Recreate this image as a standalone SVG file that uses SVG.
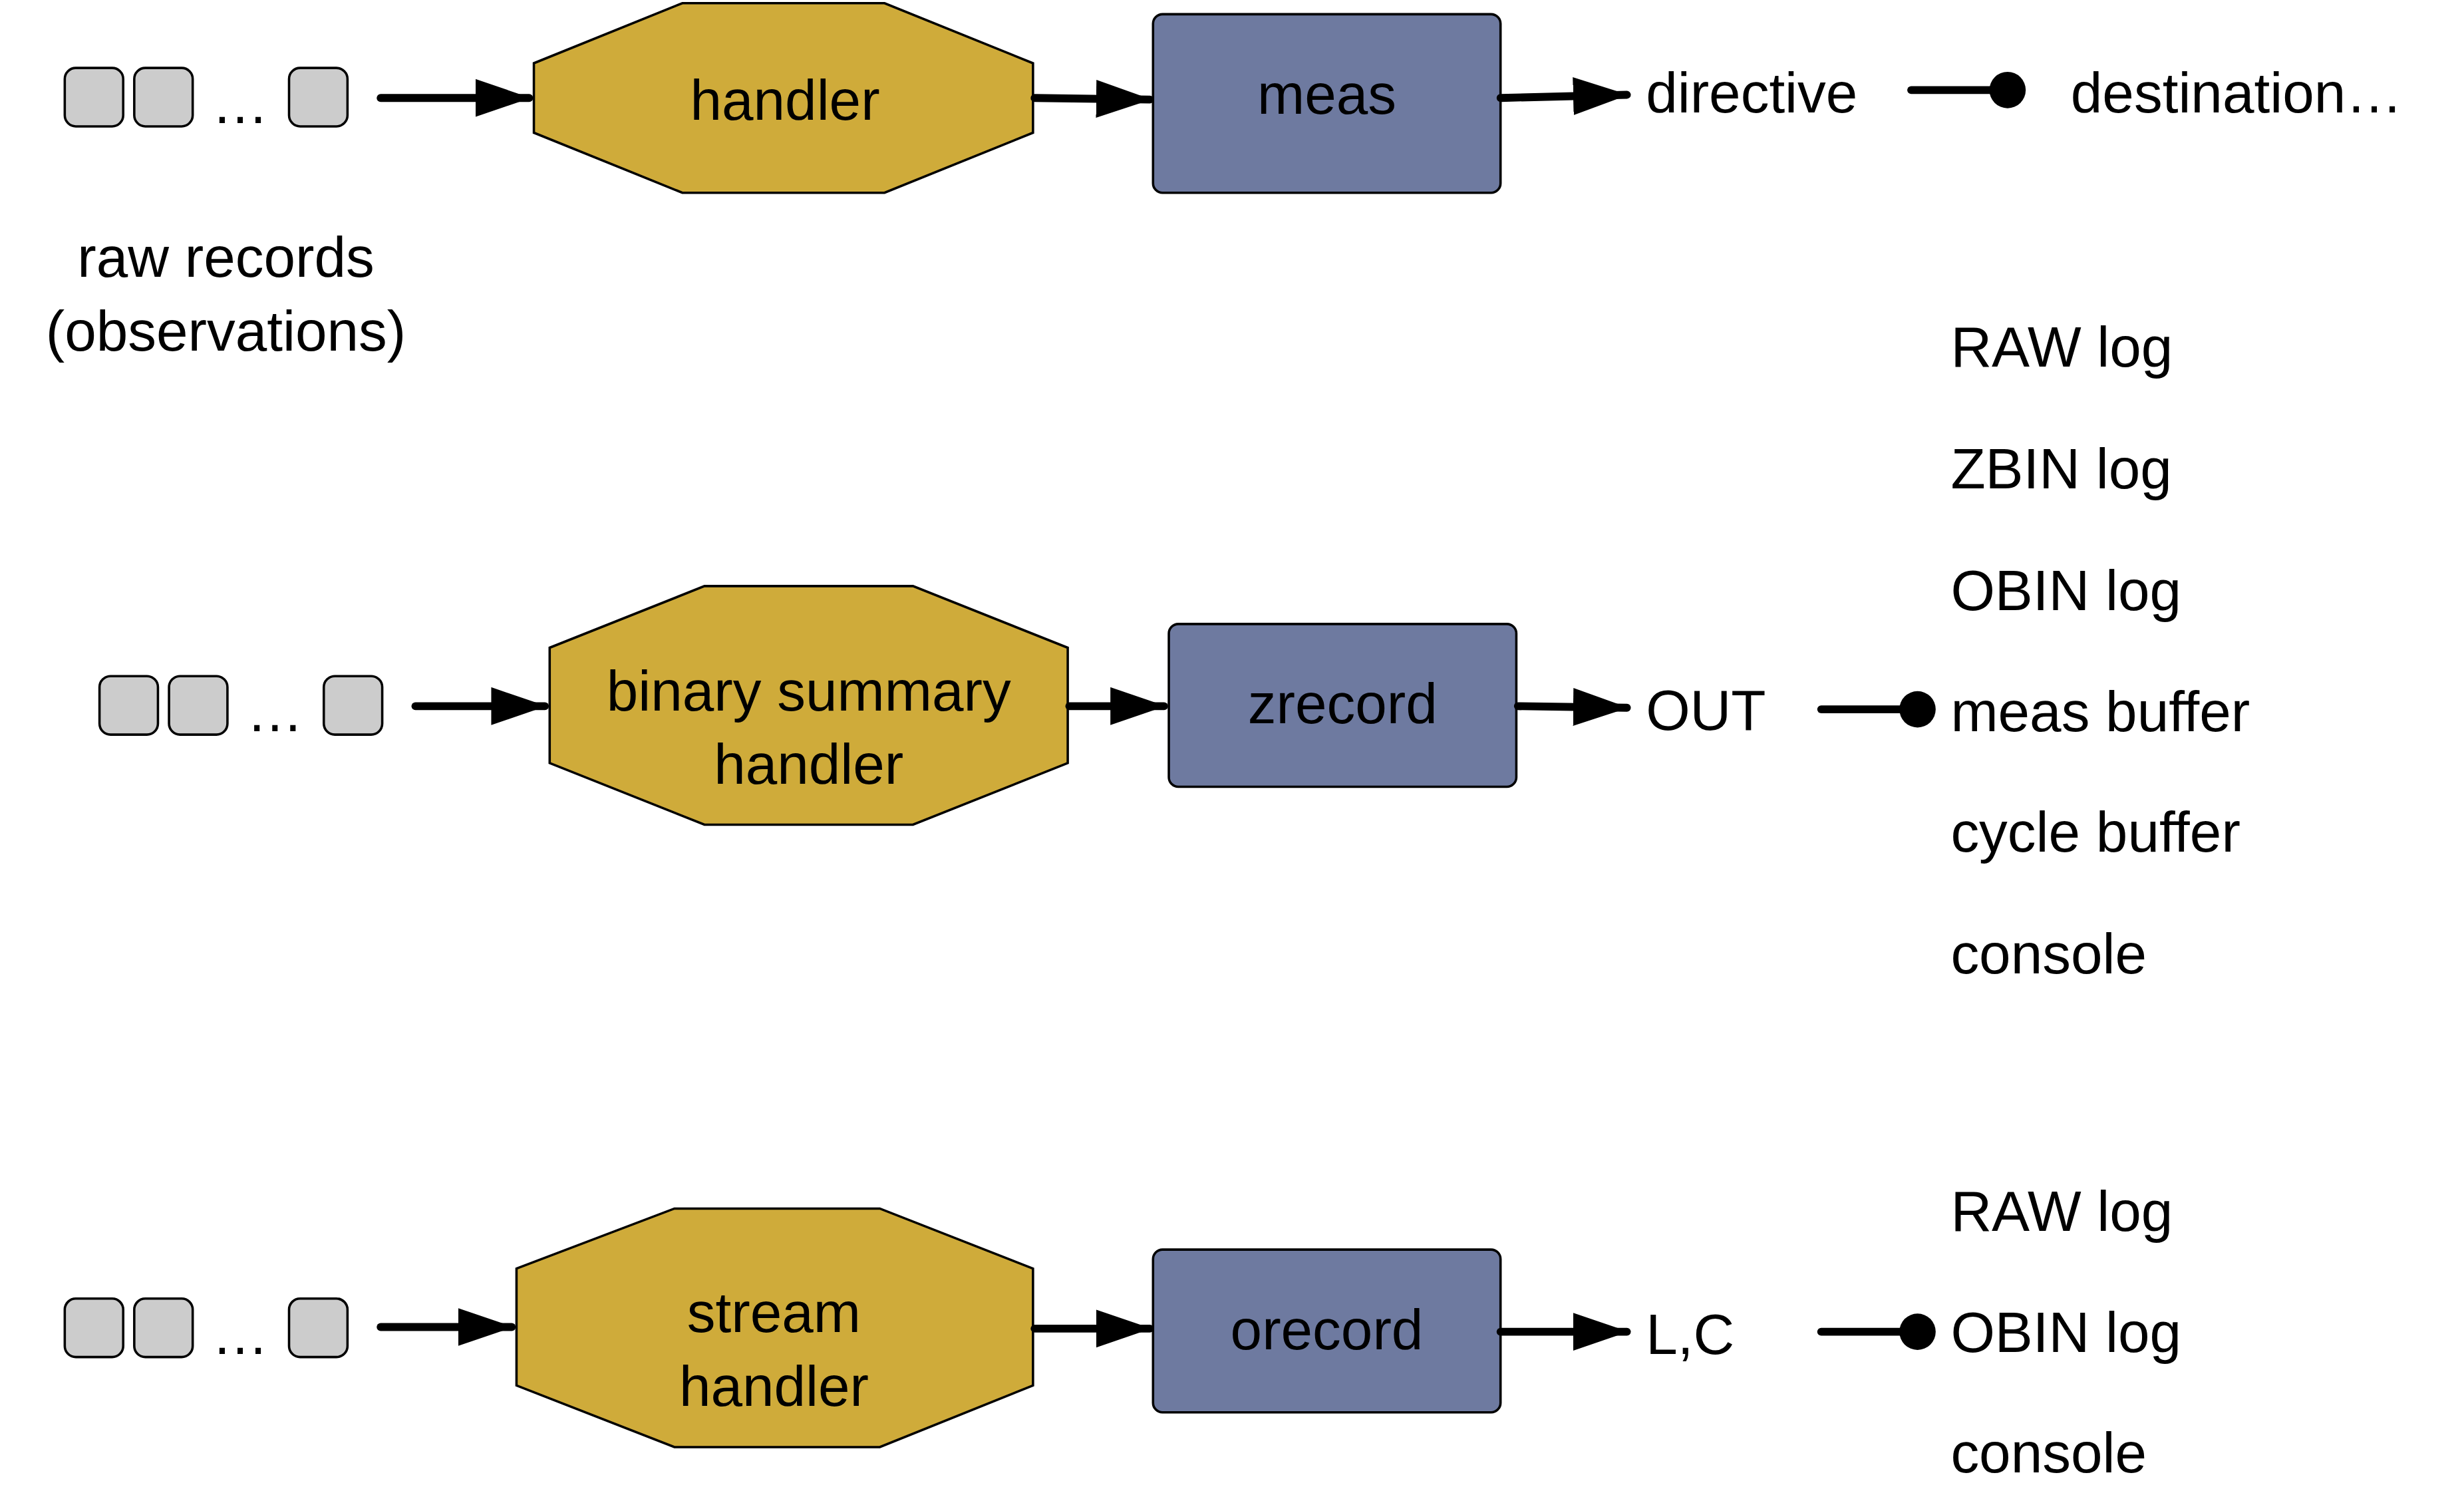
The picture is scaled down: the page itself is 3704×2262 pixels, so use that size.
<svg xmlns="http://www.w3.org/2000/svg" width="3704" height="2262" viewBox="0 0 3704 2262">
<style>
.t{font-family:"Liberation Sans",Arial,sans-serif;font-size:36px;fill:#000}
.c{text-anchor:middle}
.oct{fill:#cfab3a;stroke:#000;stroke-width:1.5}
.box{fill:#6e7aa0;stroke:#000;stroke-width:1.5}
.sq{fill:#cccccc;stroke:#000;stroke-width:1.5}
.ln{stroke:#000;stroke-width:5;fill:none;stroke-linecap:round}
</style>
<defs>
<marker id="ah" markerUnits="userSpaceOnUse" markerWidth="40" markerHeight="30" refX="34" refY="12" orient="auto"><path d="M0,0 L35,12 L0,24 Z" fill="#000"/></marker>
<marker id="dot" markerUnits="userSpaceOnUse" markerWidth="26" markerHeight="26" refX="13" refY="13" orient="auto"><circle cx="13" cy="13" r="11.5" fill="#000"/></marker>
</defs>
<rect width="3704" height="2262" fill="#fff"/>
<g transform="scale(2.3744)">
<g id="records1"><rect class="sq" x="41" y="43" width="37" height="37" rx="7"/><rect class="sq" x="85" y="43" width="37" height="37" rx="7"/><rect class="sq" x="183" y="43" width="37" height="37" rx="7"/><text class="t" x="134" y="78">…</text></g>
<g id="records2"><rect class="sq" x="63" y="428" width="37" height="37" rx="7"/><rect class="sq" x="107" y="428" width="37" height="37" rx="7"/><rect class="sq" x="205" y="428" width="37" height="37" rx="7"/><text class="t" x="156" y="463">…</text></g>
<g id="records3"><rect class="sq" x="41" y="822" width="37" height="37" rx="7"/><rect class="sq" x="85" y="822" width="37" height="37" rx="7"/><rect class="sq" x="183" y="822" width="37" height="37" rx="7"/><text class="t" x="134" y="857">…</text></g>
<g id="handler"><polygon class="oct" points="338,40 432,2 560,2 654,40 654,84 560,122 432,122 338,84"/><text class="t c" x="497" y="76">handler</text></g>
<g id="meas"><rect class="box" x="730" y="9" width="220" height="113" rx="6"/><text class="t c" x="840" y="72">meas</text></g>
<g id="bsh"><polygon class="oct" points="348,410 446,371 578,371 676,410 676,483 578,522 446,522 348,483"/><text class="t c" x="512" y="450">binary summary</text><text class="t c" x="512" y="496">handler</text></g>
<g id="zrecord"><rect class="box" x="740" y="395" width="220" height="103" rx="6"/><text class="t c" x="850" y="458">zrecord</text></g>
<g id="sh"><polygon class="oct" points="327,803 427,765 557,765 654,803 654,877 557,916 427,916 327,877"/><text class="t c" x="490" y="843">stream</text><text class="t c" x="490" y="890">handler</text></g>
<g id="orecord"><rect class="box" x="730" y="791" width="220" height="103" rx="6"/><text class="t c" x="840" y="854">orecord</text></g>
<g id="connectors">
<path class="ln" d="M241,62 L335,62" marker-end="url(#ah)"/>
<path class="ln" d="M655,62 L728,63" marker-end="url(#ah)"/>
<path class="ln" d="M950,62 L1030,60" marker-end="url(#ah)"/>
<path class="ln" d="M1210,57 L1271,57" marker-end="url(#dot)"/>
<path class="ln" d="M263,447 L345,447" marker-end="url(#ah)"/>
<path class="ln" d="M677,447 L737,447" marker-end="url(#ah)"/>
<path class="ln" d="M961,447 L1030,448" marker-end="url(#ah)"/>
<path class="ln" d="M1153,449 L1214,449" marker-end="url(#dot)"/>
<path class="ln" d="M241,840 L324,840" marker-end="url(#ah)"/>
<path class="ln" d="M655,841 L728,841" marker-end="url(#ah)"/>
<path class="ln" d="M950,843 L1030,843" marker-end="url(#ah)"/>
<path class="ln" d="M1153,843 L1214,843" marker-end="url(#dot)"/>
</g>
<g id="labels">
<text class="t" x="1042" y="71">directive</text>
<text class="t" x="1311" y="71">destination…</text>
<text class="t c" x="143" y="175">raw records</text>
<text class="t c" x="143" y="222">(observations)</text>
<text class="t" x="1042" y="462">OUT</text>
<text class="t" x="1042" y="857">L,C</text>
<text class="t" x="1235" y="232">RAW log</text>
<text class="t" x="1235" y="309">ZBIN log</text>
<text class="t" x="1235" y="386">OBIN log</text>
<text class="t" x="1235" y="463">meas buffer</text>
<text class="t" x="1235" y="539">cycle buffer</text>
<text class="t" x="1235" y="616">console</text>
<text class="t" x="1235" y="779">RAW log</text>
<text class="t" x="1235" y="856">OBIN log</text>
<text class="t" x="1235" y="932">console</text>
</g>
</g>
</svg>
